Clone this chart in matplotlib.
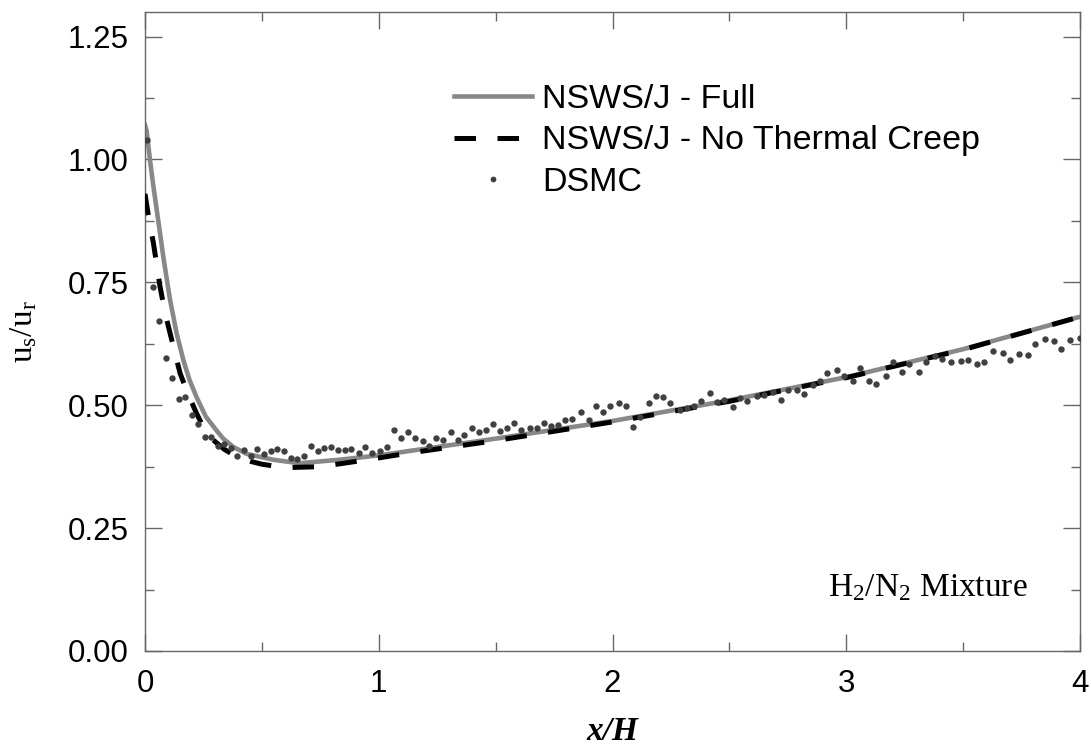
import numpy as np
import matplotlib
matplotlib.use('Agg')
import matplotlib.pyplot as plt
from matplotlib.ticker import MultipleLocator

plt.rcParams['font.family'] = ['Liberation Sans', 'DejaVu Sans']
plt.rcParams['mathtext.fontset'] = 'custom'
plt.rcParams['mathtext.rm'] = 'Liberation Serif'
plt.rcParams['mathtext.it'] = 'Liberation Serif:italic'
plt.rcParams['mathtext.bf'] = 'Liberation Serif:bold'

# NSWS/J - Full
full_x = [0.0, 0.007, 0.021, 0.036, 0.05, 0.064, 0.078, 0.093, 0.107, 0.135, 0.164,
          0.19, 0.221, 0.26, 0.307, 0.335, 0.378, 0.435, 0.55, 0.66, 0.83, 1.0,
          1.25, 1.5, 2.0, 2.5, 3.0, 3.5, 4.0]
full_y = [1.07, 1.058, 1.0, 0.945, 0.898, 0.851, 0.803, 0.757, 0.715, 0.647, 0.592,
          0.552, 0.516, 0.477, 0.448, 0.432, 0.415, 0.401, 0.389, 0.382, 0.389, 0.398,
          0.415, 0.432, 0.468, 0.51, 0.557, 0.614, 0.68]

# NSWS/J - No Thermal Creep
nocreep_x = [0.0, 0.018, 0.036, 0.064, 0.085, 0.107, 0.15, 0.185, 0.22, 0.25, 0.29,
             0.34, 0.39, 0.45, 0.5, 0.6, 0.75, 0.95, 1.12, 1.5, 2.0, 2.5, 3.0, 3.5, 4.0]
nocreep_y = [0.93, 0.875, 0.83, 0.742, 0.69, 0.647, 0.565, 0.522, 0.484, 0.455, 0.43,
             0.41, 0.396, 0.386, 0.38, 0.373, 0.375, 0.389, 0.402, 0.428, 0.466, 0.508,
             0.556, 0.613, 0.68]

# DSMC
dsmc_x = [0.007, 0.036, 0.061, 0.088, 0.117, 0.144, 0.173, 0.200, 0.228, 0.257,
          0.282, 0.312, 0.339, 0.367, 0.395, 0.425, 0.453, 0.480, 0.509, 0.538,
          0.566, 0.595, 0.623, 0.652, 0.680, 0.709, 0.739, 0.767, 0.797, 0.826,
          0.854, 0.883, 0.914, 0.943, 0.972, 1.005, 1.035, 1.067, 1.097, 1.125,
          1.156, 1.188, 1.216, 1.245,
          1.276, 1.308, 1.338, 1.366, 1.397, 1.428, 1.457, 1.487, 1.517, 1.547,
          1.577, 1.607, 1.647, 1.677, 1.707, 1.737, 1.767, 1.797, 1.827, 1.867,
          1.898, 1.928, 1.958, 1.988, 2.028, 2.058, 2.088, 2.118, 2.157, 2.188,
          2.217, 2.247, 2.287, 2.317, 2.347, 2.377, 2.417, 2.447, 2.477, 2.517,
          2.547, 2.577,
          2.617, 2.648, 2.688, 2.719, 2.749, 2.788, 2.818, 2.859, 2.889, 2.919,
          2.959, 2.989, 3.029, 3.059, 3.099, 3.129, 3.169, 3.199, 3.239, 3.270,
          3.310, 3.340, 3.380, 3.410, 3.449, 3.490, 3.519, 3.559, 3.589, 3.629,
          3.669, 3.699, 3.739, 3.779, 3.809, 3.849, 3.889, 3.918, 3.958, 3.999]
dsmc_y = [1.040, 0.740, 0.672, 0.597, 0.555, 0.512, 0.516, 0.481, 0.462, 0.436,
          0.436, 0.418, 0.421, 0.414, 0.396, 0.409, 0.396, 0.411, 0.401, 0.406,
          0.411, 0.407, 0.392, 0.390, 0.396, 0.418, 0.406, 0.413, 0.415, 0.409,
          0.409, 0.411, 0.402, 0.416, 0.402, 0.407, 0.415, 0.450, 0.434, 0.446,
          0.433, 0.428, 0.417, 0.434,
          0.430, 0.445, 0.430, 0.440, 0.453, 0.445, 0.449, 0.461, 0.447, 0.453,
          0.464, 0.449, 0.453, 0.453, 0.464, 0.457, 0.460, 0.469, 0.472, 0.487,
          0.470, 0.499, 0.487, 0.499, 0.504, 0.499, 0.456, 0.476, 0.505, 0.518,
          0.516, 0.505, 0.491, 0.495, 0.499, 0.508, 0.525, 0.506, 0.511, 0.497,
          0.514, 0.509,
          0.518, 0.521, 0.526, 0.511, 0.530, 0.530, 0.522, 0.542, 0.550, 0.565,
          0.572, 0.560, 0.550, 0.576, 0.550, 0.544, 0.559, 0.588, 0.568, 0.584,
          0.567, 0.588, 0.601, 0.594, 0.587, 0.590, 0.593, 0.584, 0.587, 0.611,
          0.607, 0.592, 0.605, 0.603, 0.624, 0.634, 0.631, 0.615, 0.633, 0.636]

fig = plt.figure(figsize=(10.91, 7.45), dpi=100)
ax = fig.add_axes([145 / 1091, 1 - 651 / 745, 935 / 1091, 639 / 745])

ax.plot(full_x, full_y, color='#888888', lw=3.3, label='NSWS/J - Full', zorder=2)
ax.plot(nocreep_x, nocreep_y, color='black', lw=3.6, linestyle=(0, (4.3, 4.3)),
        label='NSWS/J - No Thermal Creep', zorder=3)
ax.plot(dsmc_x, dsmc_y, linestyle='none', marker='o', ms=4.6, color='#404040',
        markeredgewidth=0, label='DSMC', zorder=4)

ax.set_xlim(0, 4)
ax.set_ylim(0, 1.3)
ax.xaxis.set_major_locator(MultipleLocator(1))
ax.xaxis.set_minor_locator(MultipleLocator(0.5))
ax.yaxis.set_major_locator(MultipleLocator(0.25))
ax.yaxis.set_minor_locator(MultipleLocator(0.125))
ax.yaxis.set_major_formatter(matplotlib.ticker.FormatStrFormatter('%.2f'))

for s in ax.spines.values():
    s.set_color('#666666')
    s.set_linewidth(1.0)
ax.tick_params(which='both', direction='in', top=True, right=True, colors='#666666',
               width=1.0, labelcolor='black', labelsize=22.5)
ax.tick_params(which='major', length=12)
ax.tick_params(which='minor', length=6.5)
ax.tick_params(axis='x', pad=13)
ax.tick_params(axis='y', pad=12)

ax.set_xlabel('x/H', family='Liberation Serif', fontweight='bold', fontstyle='italic',
              fontsize=24, labelpad=12)
ax.set_ylabel(r'$\mathrm{u_s/u_r}$', fontsize=24, labelpad=20)

ax.text(0.73, 0.085, r'$\mathrm{H_2/N_2}$ Mixture', transform=ax.transAxes,
        family='Liberation Serif', fontsize=24, ha='left', va='baseline')

leg = ax.legend(loc='upper left', bbox_to_anchor=(0.330, 0.887), frameon=False,
                fontsize=24.5, handlelength=2.3, handletextpad=0.3,
                labelspacing=0.3, borderaxespad=0, borderpad=0, markerscale=0.9)

fig.savefig('out.png', dpi=100)
